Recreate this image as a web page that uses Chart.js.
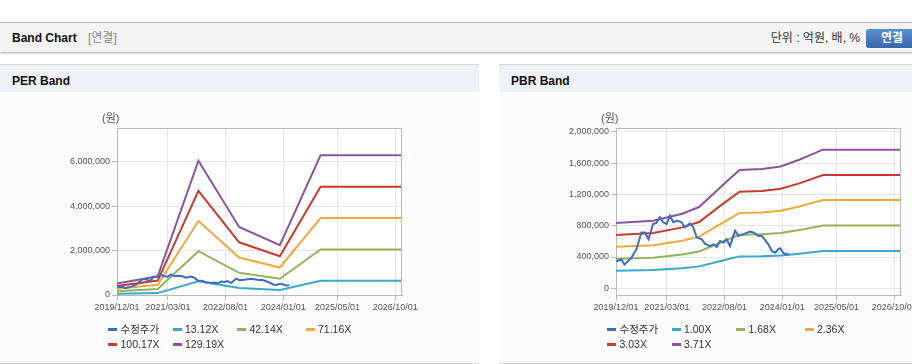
<!DOCTYPE html>
<html lang="ko">
<head>
<meta charset="utf-8">
<script src="https://cdn.jsdelivr.net/npm/chart.js@4.4.1/dist/chart.umd.min.js"></script>
<style>
  body { margin: 0; width: 912px; height: 364px; overflow: hidden; position: relative; background: #fff;
         font-family: "Liberation Sans", "Noto Sans CJK KR", sans-serif; color: #222; }
  .topbar { position: absolute; left: 0; top: 22px; width: 980px; height: 29px; border-top: 1px solid #b4b4b4;
            background: #f4f4f4; box-shadow: 0 1px 2px rgba(0,0,0,0.35); }
  .title { position: absolute; left: 12px; top: 30px; font-size: 12px; line-height: 16px; font-weight: bold; color: #111; }
  .sub { position: absolute; left: 88px; top: 30px; font-size: 12px; line-height: 16px; color: #888; }
  .unit { position: absolute; right: 52px; top: 30px; font-size: 12px; line-height: 16px; color: #333; }
  .btn { position: absolute; left: 866px; top: 29px; width: 52px; height: 19px; border-radius: 3px;
         background: linear-gradient(#5a8fd0, #3767ab); color: #fff; font-size: 12px; font-weight: bold;
         line-height: 19px; text-align: center; }
  .panel { position: absolute; top: 64px; width: 479px; height: 300px; box-sizing: border-box;
           border-top: 1px solid #d6d6d6; border-bottom: 1px solid #d6d6d6; background: #fcfcfc; }
  .phead { position: absolute; left: 0; top: 0; width: 479px; height: 27px; background: #eef2f7; }
  .phead span { position: absolute; left: 12px; top: 8px; font-size: 12px; line-height: 16px; font-weight: bold; color: #111; }
  .panel canvas { position: absolute; left: 0; top: 27px; }
  .won { position: absolute; left: 102px; top: 46px; font-size: 11px; line-height: 14px; color: #555; }
  .leg { position: absolute; font-size: 10.5px; line-height: 14px; color: #333; white-space: nowrap; }
  .leg i { position: absolute; left: 0; top: 6px; width: 9px; height: 3px; }
  .leg b { position: absolute; left: 12.5px; top: 0; font-weight: normal; }
</style>
</head>
<body>
<div class="topbar"></div>
<div class="title">Band Chart</div>
<div class="sub">[연결]</div>
<div class="unit">단위 : 억원, 배, %</div>
<div class="btn">연결</div>

<div class="panel" style="left:0">
  <div class="phead"><span>PER Band</span></div>
  <canvas id="per" width="479" height="271"></canvas>
  <div class="won">(원)</div>
  <div id="perLegend"></div>
</div>

<div class="panel" style="left:499px">
  <div class="phead"><span>PBR Band</span></div>
  <canvas id="pbr" width="479" height="271"></canvas>
  <div class="won">(원)</div>
  <div id="pbrLegend"></div>
</div>

<script>
// x values are months counted from 2019/12/01
var tickMonths = [0, 15, 32, 49, 65, 82];
var tickLabels = ["2019/12/01", "2021/03/01", "2022/08/01", "2024/01/01", "2025/05/01", "2026/10/01"];

// 수정주가
var priceMonths = [0.1, 1.6, 2.5, 4.5, 6, 7.5, 8.5, 9.6, 10.9, 11.9, 12.9, 13.9, 14.9, 15.9, 16.9, 17.9,
  19.3, 20.3, 21.8, 22.8, 23.8, 25.3, 26.2, 27.7, 28.7, 29.7, 30.7, 31.7, 32.6, 33.6, 35.1, 36.1,
  37.6, 39.5, 40.5, 42, 43, 44.9, 46, 46.9, 47.8, 48.4, 49.3, 50.2, 50.8];
var priceValues = [345000, 368000, 303000, 390000, 497000, 714000, 714000, 627000, 822000, 835000, 909000,
  844000, 822000, 930000, 844000, 865000, 844000, 779000, 831000, 779000, 649000, 627000, 571000, 540000,
  562000, 527000, 605000, 584000, 627000, 540000, 735000, 670000, 692000, 727000, 714000, 670000, 670000,
  562000, 475000, 454000, 497000, 510000, 454000, 432000, 445000];

// PER band
var perLabels = ["13.12X", "42.14X", "71.16X", "100.17X", "129.19X"];
var perMonths = [0, 12, 24, 36, 48, 60, 84];
var per1 = [52000, 85000, 614000, 311000, 228000, 639000, 639000];
var per2 = [169000, 274000, 1972000, 999000, 733000, 2052000, 2052000];
var per3 = [285000, 463000, 3330000, 1686000, 1238000, 3465000, 3465000];
var per4 = [401000, 651000, 4688000, 2374000, 1743000, 4878000, 4878000];
var per5 = [517000, 840000, 6046000, 3062000, 2248000, 6292000, 6292000];
var perTicks = [0, 2000000, 4000000, 6000000];

// PBR band
var pbrLabels = ["1.00X", "1.68X", "2.36X", "3.03X", "3.71X"];
var pbrMonths = [0, 11, 19.5, 24.5, 31.5, 36.4, 43, 48.5, 54, 61, 84];
var pbr1 = [225000, 233000, 257000, 280000, 356000, 408000, 411000, 420000, 443000, 478000, 478000];
var pbr2 = [378000, 391000, 432000, 470000, 598000, 685000, 690000, 706000, 744000, 803000, 803000];
var pbr3 = [531000, 550000, 607000, 661000, 840000, 963000, 970000, 991000, 1045000, 1128000, 1128000];
var pbr4 = [682000, 706000, 779000, 848000, 1079000, 1236000, 1245000, 1273000, 1342000, 1448000, 1448000];
var pbr5 = [835000, 864000, 953000, 1039000, 1321000, 1514000, 1525000, 1558000, 1644000, 1773000, 1773000];
var pbrTicks = [0, 400000, 800000, 1200000, 1600000, 2000000];

var colors = ["#3d6cc4", "#38a9c9", "#93b25a", "#eea93f", "#c73a2c", "#8a559e"];
var tickFont = { size: 9, family: "'Liberation Sans', Arial, sans-serif" };

function pts(xs, ys) {
  return xs.map(function (x, i) { return { x: x, y: ys[i] }; });
}

// white plot background + top/right frame
var frame = {
  id: "frame",
  beforeDraw: function (chart) {
    var a = chart.chartArea, c = chart.ctx;
    c.save();
    c.fillStyle = "#fff";
    c.fillRect(a.left, a.top, a.right - a.left, a.bottom - a.top);
    c.restore();
  },
  afterDraw: function (chart) {
    var a = chart.chartArea, c = chart.ctx;
    c.save();
    c.strokeStyle = "#b8b8b8";
    c.lineWidth = 1;
    c.beginPath();
    c.moveTo(a.left, a.top + 0.5);
    c.lineTo(a.right - 0.5, a.top + 0.5);
    c.lineTo(a.right - 0.5, a.bottom);
    c.stroke();
    c.restore();
  },
};

function bandChart(id, legendId, labels, months, bands, yMin, yMax, yTicks) {
  var datasets = [{ label: "수정주가", data: pts(priceMonths, priceValues) }];
  bands.forEach(function (b, i) {
    datasets.push({ label: labels[i], data: pts(months, b) });
  });
  datasets.forEach(function (d, i) {
    d.borderColor = colors[i];
    d.backgroundColor = colors[i];
    d.borderWidth = 2;
    d.pointRadius = 0;
    d.tension = 0;
    d.fill = false;
  });

  var ctx = document.getElementById(id).getContext("2d");
  new Chart(ctx, {
    type: "line",
    data: { datasets: datasets },
    plugins: [frame],
    options: {
      responsive: false,
      animation: false,
      layout: { padding: { top: 36, right: 77, left: 0, bottom: 0 } },
      plugins: { legend: { display: false }, tooltip: { enabled: false } },
      scales: {
        x: {
          type: "linear",
          min: 0,
          max: 84,
          afterBuildTicks: function (s) { s.ticks = tickMonths.map(function (v) { return { value: v }; }); },
          afterFit: function (s) { s.height = 68; },
          grid: { color: "#e6e6e6", tickColor: "#b8b8b8", tickLength: 5 },
          border: { color: "#b8b8b8" },
          ticks: {
            autoSkip: false,
            maxRotation: 0,
            padding: 2,
            color: "#555",
            font: tickFont,
            callback: function (v, i) { return tickLabels[i]; },
          },
        },
        y: {
          min: yMin,
          max: yMax,
          afterBuildTicks: function (s) { s.ticks = yTicks.map(function (v) { return { value: v }; }); },
          afterFit: function (s) { s.width = 117; },
          grid: { color: "#e6e6e6", tickColor: "#b8b8b8", tickLength: 5 },
          border: { color: "#b8b8b8" },
          ticks: {
            padding: 2,
            color: "#555",
            font: tickFont,
            callback: function (v) { return v.toLocaleString("en-US"); },
          },
        },
      },
    },
  });

  // legend in fixed columns
  var cols = [108, 172.5, 237, 305.5];
  var html = "";
  datasets.forEach(function (d, i) {
    var left = cols[i % 4];
    var top = i < 4 ? 257 : 272;
    html += '<div class="leg" style="left:' + left + 'px;top:' + top + 'px"><i style="background:' +
      d.borderColor + '"></i><b>' + d.label + "</b></div>";
  });
  document.getElementById(legendId).innerHTML = html;
}

bandChart("per", "perLegend", perLabels, perMonths, [per1, per2, per3, per4, per5], 0, 7520000, perTicks);
bandChart("pbr", "pbrLegend", pbrLabels, pbrMonths, [pbr1, pbr2, pbr3, pbr4, pbr5], -86000, 2050000, pbrTicks);
</script>
</body>
</html>
